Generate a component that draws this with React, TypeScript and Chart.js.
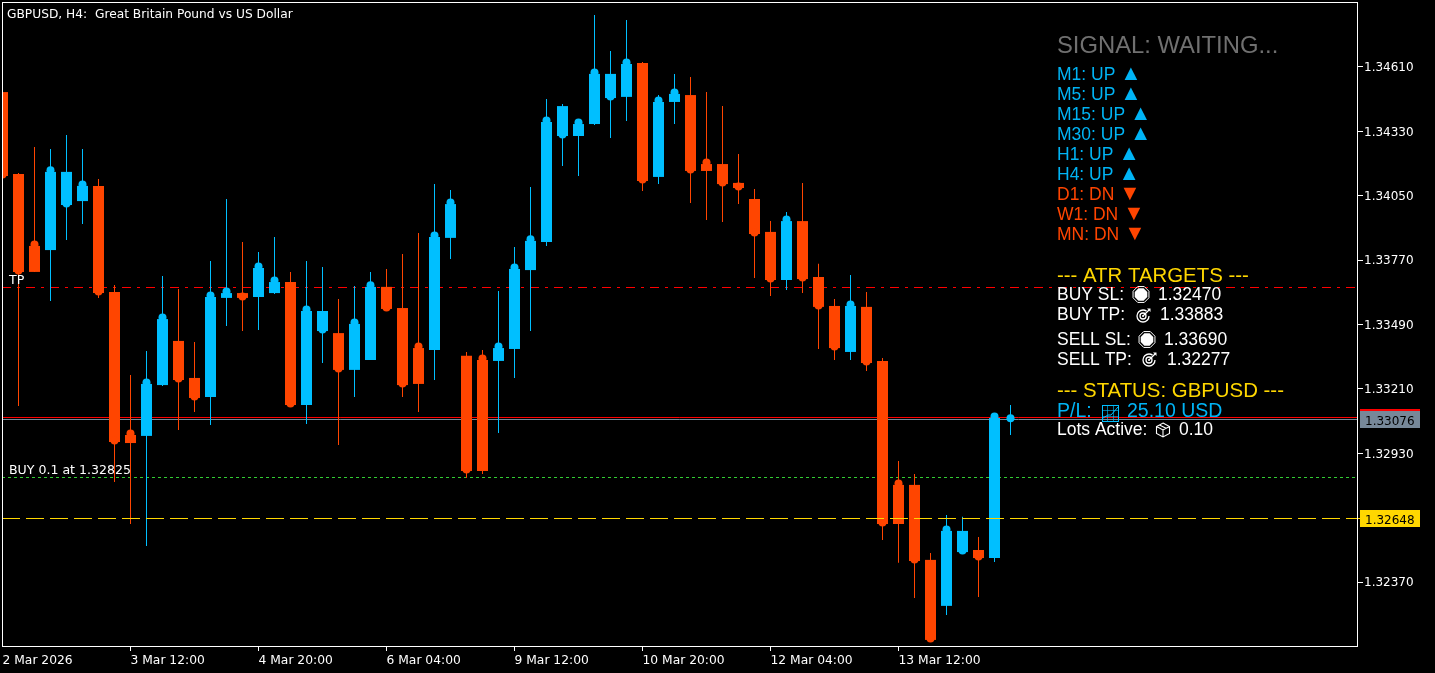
import React, { useEffect, useRef } from "react";
import { Chart, registerables } from "chart.js";

Chart.register(...registerables);

// ---------- data ----------
const title = "GBPUSD, H4:  Great Britain Pound vs US Dollar";

const open = [
  1.34501, 1.34145, 1.33719, 1.33814, 1.34154, 1.34027, 1.34093, 1.33632, 1.32975, 1.33006,
  1.33227, 1.33419, 1.33258, 1.33175, 1.33606, 1.33627, 1.33610, 1.33627, 1.33675, 1.33140,
  1.33549, 1.33453, 1.33293, 1.33336, 1.33654, 1.33562, 1.33232, 1.33380, 1.33867, 1.33354,
  1.32853, 1.33332, 1.33384, 1.33727, 1.33849, 1.34440, 1.34310, 1.34362, 1.34580, 1.34480,
  1.34627, 1.34132, 1.34458, 1.34488, 1.34158, 1.34188, 1.34106, 1.34036, 1.33893, 1.33684,
  1.33940, 1.33697, 1.33571, 1.33371, 1.33567, 1.33332, 1.32623, 1.32793, 1.32467, 1.32267,
  1.32593, 1.32510, 1.32475, 1.33078,
];
const high = [
  1.34501, 1.34149, 1.34262, 1.34254, 1.34314, 1.34254, 1.34123, 1.33662, 1.33271, 1.33375,
  1.33701, 1.33645, 1.33414, 1.33767, 1.34036, 1.33849, 1.33806, 1.33871, 1.33719, 1.33767,
  1.33740, 1.33601, 1.33658, 1.33719, 1.33732, 1.33797, 1.33888, 1.34101, 1.34075, 1.33371,
  1.33380, 1.33636, 1.33827, 1.34088, 1.34471, 1.34449, 1.34384, 1.34836, 1.34680, 1.34814,
  1.34632, 1.34488, 1.34580, 1.34567, 1.34501, 1.34440, 1.34232, 1.34080, 1.33940, 1.33980,
  1.34106, 1.33754, 1.33601, 1.33706, 1.33632, 1.33345, 1.32897, 1.32840, 1.32497, 1.32662,
  1.32654, 1.32567, 1.33106, 1.33140,
];
const low = [
  1.34136, 1.33136, 1.33719, 1.33593, 1.33858, 1.33927, 1.33606, 1.32806, 1.32623, 1.32527,
  1.33223, 1.33032, 1.33110, 1.33053, 1.33484, 1.33462, 1.33467, 1.33623, 1.33132, 1.33058,
  1.33323, 1.32967, 1.33175, 1.33336, 1.33558, 1.33175, 1.33110, 1.33249, 1.33775, 1.32823,
  1.32840, 1.33019, 1.33258, 1.33462, 1.33832, 1.34180, 1.34136, 1.34358, 1.34301, 1.34375,
  1.34071, 1.34101, 1.34362, 1.34019, 1.33945, 1.33936, 1.34014, 1.33693, 1.33614, 1.33640,
  1.33627, 1.33384, 1.33336, 1.33336, 1.33288, 1.32553, 1.32454, 1.32301, 1.32114, 1.32227,
  1.32501, 1.32306, 1.32458, 1.33010,
];
const close = [
  1.34136, 1.33719, 1.33832, 1.34154, 1.34010, 1.34093, 1.33627, 1.32980, 1.33010, 1.33232,
  1.33514, 1.33249, 1.33171, 1.33610, 1.33627, 1.33606, 1.33736, 1.33675, 1.33140, 1.33549,
  1.33462, 1.33293, 1.33493, 1.33654, 1.33558, 1.33227, 1.33388, 1.33871, 1.34014, 1.32853,
  1.33336, 1.33388, 1.33732, 1.33854, 1.34371, 1.34310, 1.34362, 1.34580, 1.34475, 1.34623,
  1.34114, 1.34458, 1.34493, 1.34158, 1.34188, 1.34101, 1.34084, 1.33884, 1.33684, 1.33940,
  1.33688, 1.33567, 1.33388, 1.33571, 1.33323, 1.32623, 1.32793, 1.32462, 1.32119, 1.32593,
  1.32501, 1.32475, 1.33084, 1.33076,
];
const trend = [
  -1, -1, -1, 1, 1, 1, -1, -1, -1, 1,
  1, -1, -1, 1, 1, -1, 1, 1, -1, 1,
  1, -1, 1, 1, -1, -1, -1, 1, 1, -1,
  -1, 1, 1, 1, 1, 1, 1, 1, 1, 1,
  -1, 1, 1, -1, -1, -1, -1, -1, -1, 1,
  -1, -1, -1, 1, -1, -1, -1, -1, -1, 1,
  1, -1, 1, 1,
];

const xTickIndex = [0, 8, 16, 24, 32, 40, 48, 56];
const xTickLabels = ["2 Mar 2026", "3 Mar 12:00", "4 Mar 20:00", "6 Mar 04:00", "9 Mar 12:00", "10 Mar 20:00", "12 Mar 04:00", "13 Mar 12:00"];
const yTickLabels = ["1.34610", "1.34330", "1.34050", "1.33770", "1.33490", "1.33210", "1.32930", "1.32370"];

const tpLevel = 1.33652;
const buyLevel = 1.32825;
const askLevel = 1.33087;
const bidLevel = 1.33076;
const markerLevel = 1.32648;
const bidText = "1.33076";
const markerText = "1.32648";
const tpText = "TP";
const buyText = "BUY 0.1 at 1.32825";

const signalText = "SIGNAL: WAITING...";
const timeframes = ["M1", "M5", "M15", "M30", "H1", "H4", "D1", "W1", "MN"];
const directions = ["UP", "UP", "UP", "UP", "UP", "UP", "DN", "DN", "DN"];
const atrHeader = "--- ATR TARGETS ---";
const statusHeader = "--- STATUS: GBPUSD ---";
const buySl = "1.32470";
const buyTp = "1.33883";
const sellSl = "1.33690";
const sellTp = "1.32277";
const plValue = "25.10 USD";
const lotsValue = "0.10";

// ---------- style ----------
const BLUE = "#00BFFF";
const RED = "#FF4500";
const GOLD = "#FFD700";
const SLATE = "#778899";
const ROWS_FONT = "17.5px 'Liberation Sans'";
const AXIS_FONT = "DejaVu Sans";
const PRICE_PER_PX = 1 / 23000;
const Y_MAX = 1.348926;
const Y_MIN = 1.320882;
const X_MIN = -0.03125;
const X_MAX = 84.71875;
const MARK_LIFT = 1.5 * PRICE_PER_PX;

const colorOf = (t: number) => (t > 0 ? BLUE : RED);

function octagon(ctx: CanvasRenderingContext2D, cx: number, cy: number, r: number) {
  ctx.beginPath();
  for (let k = 0; k < 8; k++) {
    const a = Math.PI / 8 + (k * Math.PI) / 4;
    const px = cx + r * Math.cos(a);
    const py = cy + r * Math.sin(a);
    if (k === 0) ctx.moveTo(px, py);
    else ctx.lineTo(px, py);
  }
  ctx.closePath();
}

function drawStop(ctx: CanvasRenderingContext2D, cx: number, cy: number) {
  ctx.strokeStyle = "#fff";
  ctx.lineWidth = 1;
  octagon(ctx, cx, cy, 8.6);
  ctx.stroke();
  ctx.fillStyle = "#fff";
  octagon(ctx, cx, cy, 6.8);
  ctx.fill();
}

function drawTarget(ctx: CanvasRenderingContext2D, cx: number, cy: number) {
  ctx.strokeStyle = "#fff";
  ctx.lineWidth = 1.3;
  ctx.beginPath();
  ctx.arc(cx, cy, 6, 0, Math.PI * 1.7);
  ctx.stroke();
  ctx.beginPath();
  ctx.arc(cx, cy, 3, 0, Math.PI * 2);
  ctx.stroke();
  ctx.fillStyle = "#fff";
  ctx.beginPath();
  ctx.arc(cx, cy, 1, 0, Math.PI * 2);
  ctx.fill();
  ctx.beginPath();
  ctx.moveTo(cx, cy);
  ctx.lineTo(cx + 6, cy - 6);
  ctx.stroke();
  ctx.beginPath();
  ctx.moveTo(cx + 4, cy - 7.5);
  ctx.lineTo(cx + 7.5, cy - 4);
  ctx.lineTo(cx + 7.5, cy - 7.5);
  ctx.closePath();
  ctx.fill();
}

function drawChartBox(ctx: CanvasRenderingContext2D, x: number, y: number) {
  ctx.strokeStyle = BLUE;
  ctx.lineWidth = 1;
  ctx.strokeRect(x + 0.5, y + 0.5, 16, 16);
  ctx.globalAlpha = 0.6;
  ctx.beginPath();
  for (const d of [5.5, 11.5]) {
    ctx.moveTo(x + d, y + 0.5);
    ctx.lineTo(x + d, y + 16.5);
    ctx.moveTo(x + 0.5, y + d);
    ctx.lineTo(x + 16.5, y + d);
  }
  ctx.stroke();
  ctx.globalAlpha = 1;
  ctx.beginPath();
  ctx.moveTo(x + 1, y + 13);
  ctx.lineTo(x + 6, y + 10);
  ctx.lineTo(x + 9, y + 10);
  ctx.lineTo(x + 16, y + 2);
  ctx.stroke();
}

function drawCube(ctx: CanvasRenderingContext2D, cx: number, cy: number) {
  ctx.strokeStyle = "#fff";
  ctx.lineWidth = 1.1;
  ctx.beginPath();
  ctx.moveTo(cx, cy - 7);
  ctx.lineTo(cx + 6.5, cy - 3.5);
  ctx.lineTo(cx + 6.5, cy + 3.5);
  ctx.lineTo(cx, cy + 7);
  ctx.lineTo(cx - 6.5, cy + 3.5);
  ctx.lineTo(cx - 6.5, cy - 3.5);
  ctx.closePath();
  ctx.moveTo(cx - 6.5, cy - 3.5);
  ctx.lineTo(cx, cy);
  ctx.lineTo(cx + 6.5, cy - 3.5);
  ctx.moveTo(cx, cy);
  ctx.lineTo(cx, cy + 7);
  ctx.moveTo(cx - 3.5, cy - 5);
  ctx.lineTo(cx + 3, cy - 1.7);
  ctx.stroke();
}

function hLine(chart: any, value: number, color: string, dash: number[]) {
  const { ctx, chartArea, scales } = chart;
  const y = Math.floor(scales.y.getPixelForValue(value)) + 0.5;
  ctx.save();
  ctx.strokeStyle = color;
  ctx.lineWidth = 1;
  ctx.setLineDash(dash);
  ctx.beginPath();
  ctx.moveTo(chartArea.left, y);
  ctx.lineTo(chartArea.right - 0.5, y);
  ctx.stroke();
  ctx.restore();
}

const blackBackground = {
  id: "blackBackground",
  beforeDraw(chart: any) {
    const { ctx, width, height } = chart;
    ctx.save();
    ctx.fillStyle = "#000";
    ctx.fillRect(0, 0, width, height);
    ctx.restore();
  },
};

const backLines = {
  id: "backLines",
  beforeDatasetsDraw(chart: any) {
    hLine(chart, tpLevel, "#FF0000", [9, 6, 3, 6]);
    hLine(chart, buyLevel, "#32CD32", [3, 3]);
    hLine(chart, askLevel, "#FF0000", []);
    hLine(chart, bidLevel, SLATE, []);
  },
};

const overlay = {
  id: "overlay",
  afterDatasetsDraw(chart: any) {
    hLine(chart, markerLevel, GOLD, [18, 6]);
    const { ctx } = chart;
    ctx.save();
    // frame of the plot
    ctx.strokeStyle = "#fff";
    ctx.lineWidth = 1;
    ctx.strokeRect(2.5, 2.5, 1355, 644);

    // order labels
    ctx.fillStyle = "#fff";
    ctx.font = "12.55px 'DejaVu Sans'";
    ctx.fillText(tpText, 9, 284);
    ctx.fillText(buyText, 9, 474);

    // price labels on the axis
    ctx.fillStyle = "#FF0000";
    ctx.fillRect(1360, 409, 60, 2);
    ctx.fillStyle = SLATE;
    ctx.fillRect(1360, 411, 60, 17);
    ctx.fillStyle = GOLD;
    ctx.fillRect(1358, 518, 2, 1);
    ctx.fillRect(1360, 510, 60, 17);
    ctx.fillStyle = "#000";
    ctx.font = "12px 'DejaVu Sans'";
    ctx.fillText(bidText, 1365, 425);
    ctx.fillText(markerText, 1365, 524);

    // chart heading
    ctx.fillStyle = "#fff";
    ctx.font = "12.23px 'DejaVu Sans'";
    ctx.fillText(title, 7, 18);

    // signal panel
    const px = 1057;
    ctx.fillStyle = "#707070";
    ctx.font = "23.8px 'Liberation Sans'";
    ctx.fillText(signalText, px, 53);
    timeframes.forEach((tf, i) => {
      const up = directions[i] === "UP";
      ctx.fillStyle = up ? "#00B4F5" : RED;
      const base = 80 + i * 20;
      const label = `${tf}: ${directions[i]}`;
      ctx.font = ROWS_FONT;
      ctx.fillText(label, px, base);
      const w = ctx.measureText(label).width;
      ctx.font = "21.5px 'Liberation Sans'";
      ctx.fillText(up ? "▲" : "▼", px + w + 5, base);
    });

    ctx.fillStyle = GOLD;
    ctx.font = "20.4px 'Liberation Sans'";
    ctx.fillText(atrHeader, px, 282);
    ctx.fillText(statusHeader, px, 397);

    ctx.fillStyle = "#fff";
    ctx.font = ROWS_FONT;
    ctx.fillText("BUY SL:", px, 300);
    ctx.fillText(buySl, 1158, 300);
    ctx.fillText("BUY TP:", px, 320);
    ctx.fillText(buyTp, 1160, 320);
    ctx.fillText("SELL SL:", px, 345);
    ctx.fillText(sellSl, 1164, 345);
    ctx.fillText("SELL TP:", px, 365);
    ctx.fillText(sellTp, 1167, 365);
    ctx.fillText("Lots Active:", px, 435);
    ctx.fillText(lotsValue, 1179, 435);

    ctx.fillStyle = "#00B4F5";
    ctx.font = "19.5px 'Liberation Sans'";
    ctx.fillText("P/L:", px, 417);
    ctx.fillText(plValue, 1127, 417);

    drawStop(ctx, 1141, 294.5);
    drawTarget(ctx, 1143, 316);
    drawStop(ctx, 1147, 339.5);
    drawTarget(ctx, 1149, 360);
    drawChartBox(ctx, 1102, 405);
    drawCube(ctx, 1163, 430);
    ctx.restore();
  },
};

export default function App() {
  const ref = useRef<HTMLCanvasElement | null>(null);

  useEffect(() => {
    if (!ref.current) return;
    const index = open.map((_, i) => i);
    const colors = trend.map(colorOf);
    const chart = new Chart(ref.current, {
      type: "bar",
      data: {
        datasets: [
          {
            type: "bar",
            label: "Wick",
            data: index.map((i) => ({ x: i, y: [low[i], high[i]] })) as any,
            backgroundColor: colors,
            barThickness: 1,
            grouped: false,
            inflateAmount: 0,
            order: 3,
          },
          {
            type: "bar",
            label: "Body",
            data: index.map((i) => ({ x: i, y: [open[i], close[i]] })) as any,
            backgroundColor: colors,
            barThickness: 11,
            grouped: false,
            inflateAmount: 0,
            order: 2,
          },
          {
            type: "line",
            label: "Close",
            data: index.map((i) => ({ x: i, y: close[i] + MARK_LIFT })),
            showLine: false,
            pointRadius: 4,
            pointBorderWidth: 0,
            pointBackgroundColor: colors,
            order: 1,
          },
        ] as any,
      },
      options: {
        animation: false,
        responsive: false,
        devicePixelRatio: 1,
        layout: { autoPadding: false, padding: { left: 2, top: 2, right: 0, bottom: 0 } },
        plugins: { legend: { display: false }, tooltip: { enabled: false }, title: { display: false } },
        scales: {
          x: {
            type: "linear",
            min: X_MIN,
            max: X_MAX,
            offset: false,
            border: { display: false },
            grid: {
              offset: false,
              drawOnChartArea: false,
              drawTicks: true,
              tickLength: 4,
              tickColor: (c: any) => (c.index === 0 ? "transparent" : "#fff"),
            },
            afterBuildTicks: (s: any) => {
              s.ticks = xTickIndex.map((value) => ({ value }));
            },
            afterFit: (s: any) => {
              s.height = 26;
              s.paddingLeft = 0;
              s.paddingRight = 0;
            },
            ticks: {
              autoSkip: false,
              maxRotation: 0,
              minRotation: 0,
              align: "start",
              padding: 2,
              color: "#fff",
              font: { family: AXIS_FONT, size: 12.3 },
              callback: (_v: any, i: number) => xTickLabels[i],
            },
          },
          y: {
            type: "linear",
            position: "right",
            min: Y_MIN,
            max: Y_MAX,
            border: { display: false },
            grid: { drawOnChartArea: false, drawTicks: true, tickLength: 5, tickColor: "#fff" },
            afterBuildTicks: (s: any) => {
              s.ticks = yTickLabels.map((l) => ({ value: Number(l) }));
            },
            afterFit: (s: any) => {
              s.width = 77;
              s.paddingTop = 0;
              s.paddingBottom = 0;
            },
            ticks: {
              autoSkip: false,
              padding: 1,
              labelOffset: 1,
              color: "#fff",
              font: { family: AXIS_FONT, size: 12 },
              callback: (_v: any, i: number) => yTickLabels[i],
            },
          },
        },
      },
      plugins: [blackBackground, backLines, overlay],
    } as any);
    return () => chart.destroy();
  }, []);

  return (
    <div style={{ position: "fixed", left: 0, top: 0, width: 1435, height: 673, background: "#000" }}>
      <canvas ref={ref} width={1435} height={673} style={{ display: "block" }} />
    </div>
  );
}
